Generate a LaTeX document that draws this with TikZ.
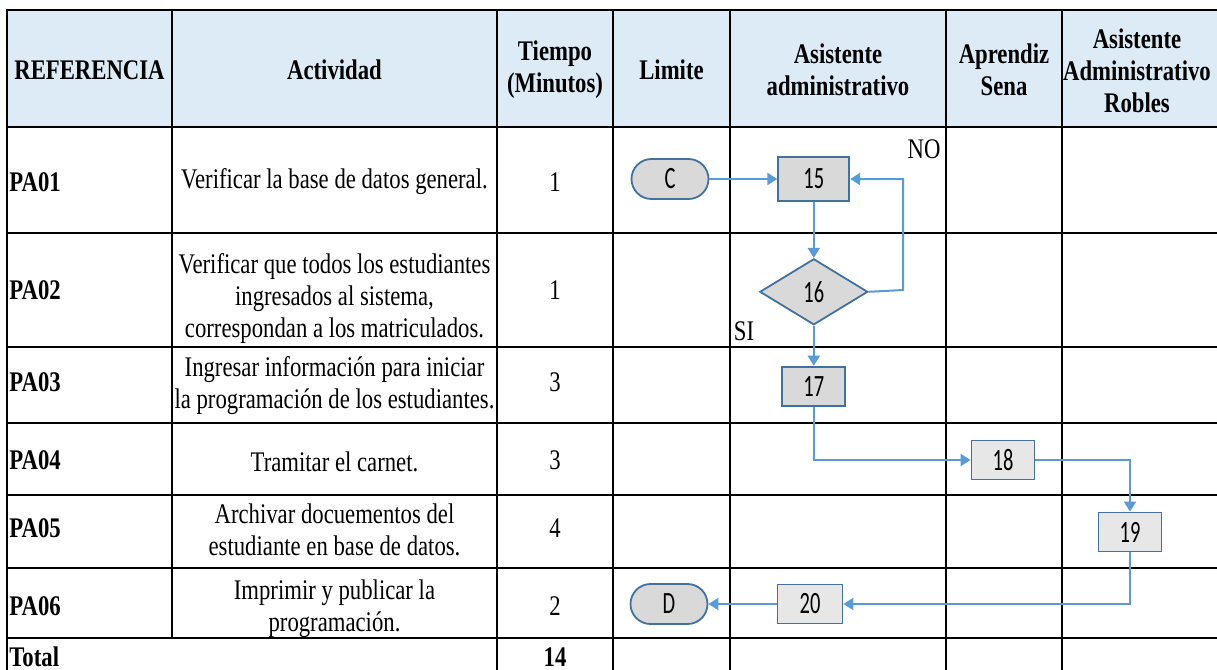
\documentclass[tikz,border=0pt]{standalone}
\usepackage{fontspec}
\setmainfont{Liberation Serif}[FakeStretch=0.8]
\newfontfamily\shapefont{Carlito}[FakeStretch=0.66]
\usetikzlibrary{arrows.meta, positioning, shapes.geometric}
\definecolor{headblue}{HTML}{DDEBF7}
\definecolor{shapeline}{HTML}{41719C}
\definecolor{shapegray}{HTML}{D9D9D9}
\definecolor{shapelight}{HTML}{E7E7E7}
\definecolor{flowblue}{HTML}{5B9BD5}
\newcommand{\tabsize}{\fontsize{14.2}{16}\selectfont}
\tikzset{
  gridline/.style={line width=1.25pt, black, line cap=rect},
  headcell/.style={align=center, font=\tabsize\bfseries},
  refcell/.style={anchor=west, inner sep=0pt, font=\tabsize\bfseries},
  textcell/.style={align=center, font=\tabsize},
  process/.style={draw=shapeline, fill=shapegray, line width=0.9pt, minimum width=31.5pt, minimum height=19.5pt, inner sep=0pt, font=\shapefont\fontsize{15.5}{16}\selectfont},
  lightprocess/.style={process, fill=shapelight},
  terminal/.style={process, rounded corners=10pt, minimum width=38.5pt, minimum height=20pt},
  decision/.style={process, diamond, minimum width=54pt, minimum height=33pt},
  flow/.style={-{Triangle[length=5pt, width=6pt]}, line width=1pt, flowblue}
}

\begin{document}
\begin{tikzpicture}[x=0.5pt, y=-0.5pt]
    \useasboundingbox (0,0) rectangle (1217,670);
    \fill[headblue] (7,10) rectangle (1217,127);

    \draw[gridline] (7,10) -- (1217,10) (7,127) -- (1217,127) (7,233) -- (1217,233) (7,347) -- (1217,347)
      (7,423) -- (1217,423) (7,495) -- (1217,495) (7,568) -- (1217,568) (7,638) -- (1217,638);
    \draw[gridline] (7,10) -- (7,670) (172,10) -- (172,638) (497,10) -- (497,670) (613,10) -- (613,670)
      (730,10) -- (730,670) (946,10) -- (946,670) (1062,10) -- (1062,670);

    \node[headcell] (hRef) at (89.5,70) {REFERENCIA};
    \node[headcell] (hAct) at (334.5,70) {Actividad};
    \node[headcell] (hTime) at (555,70) {Tiempo\\(Minutos)};
    \node[headcell] (hLim) at (671.5,70) {Limite};
    \node[headcell] (hAsis) at (838,70) {Asistente\\administrativo};
    \node[headcell] (hApr) at (1004,70) {Aprendiz\\Sena};
    \node[headcell] (hRob) at (1137,71) {Asistente\\Administrativo\\Robles};

    \node[refcell] (idA) at (9,182) {PA01};
    \node[refcell] (idB) at (9,290) {PA02};
    \node[refcell] (idC) at (9,382) {PA03};
    \node[refcell] (idD) at (9,460) {PA04};
    \node[refcell] (idE) at (9,528) {PA05};
    \node[refcell] (idF) at (9,606) {PA06};
    \node[refcell] (idTotal) at (9,657) {Total};

    \node[textcell] (actA) at (334.5,182) {Verificar la base de datos general.};
    \node[textcell] (actB) at (334.5,299) {Verificar que todos los estudiantes\\ingresados al sistema,\\correspondan a los matriculados.};
    \node[textcell] (actC) at (334.5,386) {Ingresar información para iniciar\\la programación de los estudiantes.};
    \node[textcell] (actD) at (334.5,462) {Tramitar el carnet.};
    \node[textcell] (actE) at (334.5,530) {Archivar docuementos del\\estudiante en base de datos.};
    \node[textcell] (actF) at (334.5,609) {Imprimir y publicar la\\programación.};

    \node[textcell] (timeA) at (555,182) {1};
    \node[textcell] (timeB) at (555,290) {1};
    \node[textcell] (timeC) at (555,382) {3};
    \node[textcell] (timeD) at (555,460) {3};
    \node[textcell] (timeE) at (555,528) {4};
    \node[textcell] (timeF) at (555,606) {2};
    \node[headcell] (timeTotal) at (555,657) {14};

    \node[terminal] (C) at (670,179) {C};
    \node[process, minimum width=35.5pt, minimum height=22pt, right=34pt of C] (p15) {15};
    \node[decision, below=28pt of p15] (d16) {16};
    \node[process, below=20pt of d16] (p17) {17};
    \node[lightprocess] (p18) at (1003,460) {18};
    \node[lightprocess] (p19) at (1130,532) {19};
    \node[lightprocess, minimum width=32.5pt] (p20) at (810,604) {20};
    \node[terminal] (D) at (669,604) {D};
    \coordinate (noLoop) at (903,290);

    \node[textcell] (noLabel) at (924,149) {NO};
    \node[textcell] (siLabel) at (744,331) {SI};

    \draw[flow] (C) -- (p15);
    \draw[flow] (p15) -- (d16);
    \draw[flow] (d16.east) -- (noLoop) |- (p15.east);
    \draw[flow] (d16) -- (p17);
    \draw[flow] (p17.south) |- (p18.west);
    \draw[flow] (p18.east) -| (p19.north);
    \draw[flow] (p19.south) |- (p20.east);
    \draw[flow] (p20) -- (D);
\end{tikzpicture}
\end{document}
